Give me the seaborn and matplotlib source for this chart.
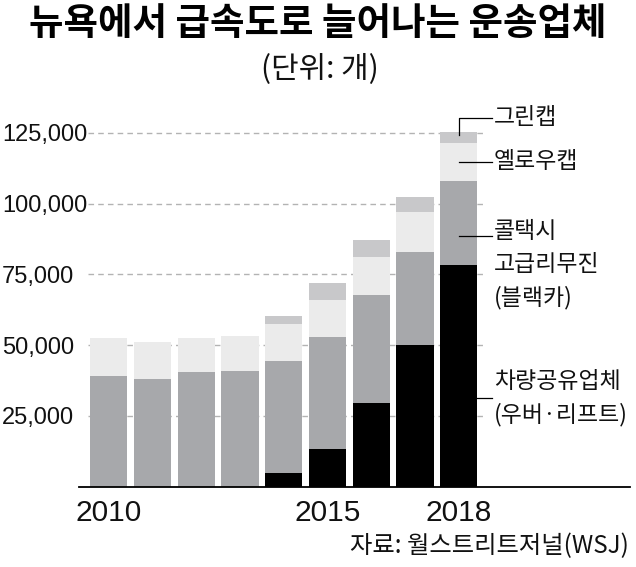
import matplotlib
matplotlib.use("Agg")
import matplotlib.pyplot as plt
from matplotlib import font_manager
import numpy as np
import pandas as pd
import seaborn as sns

# ---------------- data ----------------
years = ["2010", "2011", "2012", "2013", "2014", "2015", "2016", "2017", "2018"]
rideshare = [0, 0, 0, 0, 4700, 13300, 29600, 50100, 78500]          # 차량공유업체 (우버·리프트)
blackcar = [39100, 38100, 40400, 40700, 39700, 39700, 38200, 32900, 29600]  # 콜택시 고급리무진 (블랙카)
yellowcab = [13500, 13100, 12200, 12500, 13100, 13000, 13300, 14100, 13400]  # 옐로우캡
greencab = [0, 0, 0, 0, 2900, 6100, 6000, 5100, 3700]               # 그린캡

y_ticks = [25000, 50000, 75000, 100000, 125000]
x_tick_pos = [0, 5, 8]
x_tick_labels = ["2010", "2015", "2018"]

title = "뉴욕에서 급속도로 늘어나는 운송업체"
subtitle = "(단위: 개)"
source = "자료: 월스트리트저널(WSJ)"

# ---------------- fonts ----------------
KR = "Noto Sans CJK KR"
NUM = "Liberation Sans"
plt.rcParams["font.family"] = [KR, "DejaVu Sans"]

C_BLACK = "#000000"
C_GRAY = "#a7a8ab"
C_YELLOW = "#ebebeb"
C_GREEN = "#c8c8ca"

df = pd.DataFrame({"year": years, "ride": rideshare, "black": blackcar,
                   "yellow": yellowcab, "green": greencab})
df["c1"] = df["ride"]
df["c2"] = df["c1"] + df["black"]
df["c3"] = df["c2"] + df["yellow"]
df["c4"] = df["c3"] + df["green"]

W, H = 636, 567
fig = plt.figure(figsize=(W / 100, H / 100), dpi=100)
ax_left, ax_right, ax_bottom = 88, 485, 486.5
ymax = 130000
px_per_unit = 70.7 / 25000
ax_h = ymax * px_per_unit
ax = fig.add_axes([ax_left / W, (H - ax_bottom) / H, (ax_right - ax_left) / W, ax_h / H])

for col, colr in [("c4", C_GREEN), ("c3", C_YELLOW), ("c2", C_GRAY), ("c1", C_BLACK)]:
    sns.barplot(data=df, x="year", y=col, color=colr, saturation=1, width=0.853,
                linewidth=0, ax=ax, zorder=2)

pitch = 43.75
x0 = 108.7
ax.set_xlim(-(x0 - ax_left) / pitch, (ax_right - x0) / pitch)
ax.set_ylim(0, ymax)
ax.set_xlabel("")
ax.set_ylabel("")
for s in ax.spines.values():
    s.set_visible(False)

ax.set_axisbelow(True)
ax.yaxis.grid(True, linestyle=(0, (4, 3)), color="#b3b3b3", linewidth=1.0)
ax.xaxis.grid(False)

ax.set_yticks(y_ticks, [f"{v:,}" for v in y_ticks])
ax.tick_params(axis="y", length=0, pad=86 * 0.72, labelsize=17)
for lbl in ax.get_yticklabels():
    lbl.set_ha("left")
    lbl.set_fontfamily(NUM)
    lbl.set_color("#111111")

ax.set_xticks(x_tick_pos, x_tick_labels)
ax.tick_params(axis="x", length=0, pad=9, labelsize=21.5)
for lbl in ax.get_xticklabels():
    lbl.set_fontfamily(NUM)
    lbl.set_color("#111111")

# baseline
ax.axhline(0, xmin=(79 - ax_left) / (ax_right - ax_left), xmax=(630 - ax_left) / (ax_right - ax_left),
           color="black", linewidth=1.3, clip_on=False, zorder=3)

# connectors (right-side labels)
def py(ypx):
    return (ax_bottom - ypx) / px_per_unit

last = len(years) - 1
xend = (492 - x0) / pitch
lkw = dict(color="black", linewidth=0.9, clip_on=False, zorder=4)
ax.plot([last, last, xend], [py(135), py(118), py(118)], **lkw)
ax.plot([last, xend], [py(162), py(162)], **lkw)
ax.plot([last, xend], [py(236), py(236)], **lkw)
ax.plot([last, xend], [py(398), py(398)], **lkw)

def ftext(xpx, ypx, s, **kw):
    fig.text(xpx / W, 1 - ypx / H, s, **kw)

lab_kw = dict(ha="left", va="center", fontsize=16.5, color="#111111")
ftext(494, 118, "그린캡", **lab_kw)
ftext(494, 162, "옐로우캡", **lab_kw)
ftext(494, 232, "콜택시", **lab_kw)
ftext(494, 265, "고급리무진", **lab_kw)
ftext(494, 298, "(블랙카)", **lab_kw)
ftext(494, 381, "차량공유업체", **lab_kw)
ftext(494, 415, "(우버·리프트)", **lab_kw)

ftext(318, 23, title, ha="center", va="center", fontsize=27, fontweight="heavy", color="black")
ftext(320, 70, subtitle, ha="center", va="center", fontsize=21.5, color="#111111")
ftext(629, 546, source, ha="right", va="center", fontsize=17.5, color="#111111")

fig.savefig("out.png", dpi=100)
